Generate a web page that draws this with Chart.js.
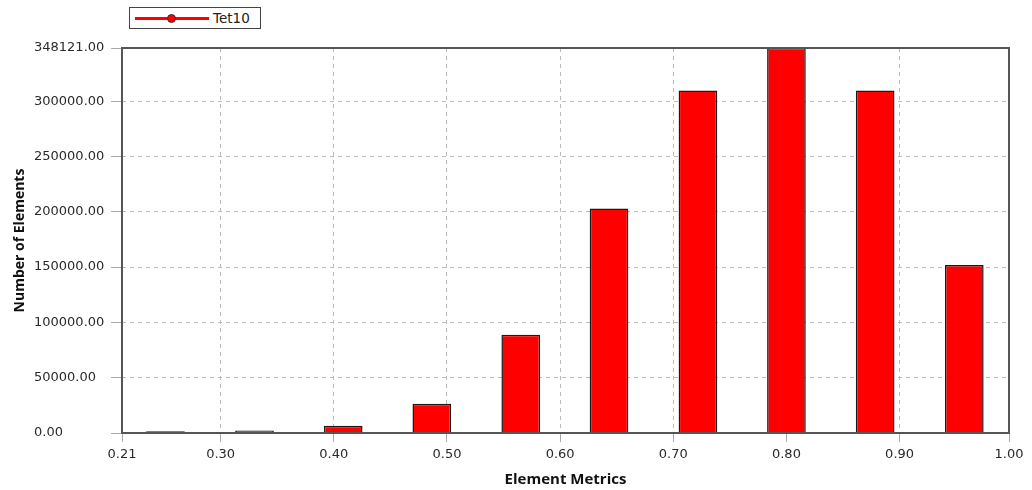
<!DOCTYPE html>
<html>
<head>
<meta charset="utf-8">
<script src="https://cdn.jsdelivr.net/npm/chart.js@4/dist/chart.umd.min.js"></script>
<style>
  body { margin: 0; background: #fff; }
  #wrap { position: relative; width: 1032px; height: 490px; }
  #legend {
    position: absolute; left: 129px; top: 7px; width: 130px; height: 20px;
    border: 1px solid #444; background: #fff;
    font-family: "DejaVu Sans", sans-serif; font-size: 13.5px; color: #222;
  }
  #legend .ln { position: absolute; left: 5px; top: 9px; width: 74px; height: 3px; background: #f00; }
  #legend .dot { position: absolute; left: 37px; top: 6px; width: 7px; height: 7px; border-radius: 50%; background: #f00; border: 1px solid #333; }
  #legend .txt { position: absolute; left: 83px; top: 0px; line-height: 20px; }
</style>
</head>
<body>
<div id="wrap">
  <canvas id="myChart" width="1032" height="490"></canvas>
  <div id="legend"><div class="ln"></div><div class="dot"></div><span class="txt" id="legendText"></span></div>
</div>
<script>
var seriesName = "Tet10";
// bin centres of the element metric histogram (axis runs from min metric 0.2128 to max 0.9967)
var binCenters = [0.2512, 0.3299, 0.4083, 0.4866, 0.5652, 0.6432, 0.7218, 0.8000, 0.8784, 0.9572];
var counts = [1500, 2300, 6600, 26500, 88800, 203000, 309800, 348121, 309800, 152000];
var xTicks = [0.2128, 0.30, 0.40, 0.50, 0.60, 0.70, 0.80, 0.90, 0.9967];
var yTicks = [0, 50000, 100000, 150000, 200000, 250000, 300000, 348121];

document.getElementById("legendText").textContent = seriesName;

var points = [];
for (var i = 0; i < binCenters.length; i++) {
  points.push({ x: binCenters[i], y: counts[i] });
}

// box round the plot area
var framePlugin = {
  id: "frame",
  afterDatasetsDraw: function(chart) {
    var a = chart.chartArea, ctx = chart.ctx;
    ctx.save();
    ctx.strokeStyle = "#555";
    ctx.lineWidth = 2;
    ctx.strokeRect(a.left, a.top, a.right - a.left, a.bottom - a.top);
    ctx.restore();
  }
};

var tickFont = { family: "'DejaVu Sans', sans-serif", size: 13 };

var ctx = document.getElementById("myChart").getContext("2d");
var myChart = new Chart(ctx, {
  type: "bar",
  data: {
    datasets: [{
      label: seriesName,
      data: points,
      backgroundColor: "#ff0000",
      borderColor: "#1a1a1a",
      borderWidth: 1.5,
      categoryPercentage: 1,
      barPercentage: 0.438
    }]
  },
  options: {
    responsive: false,
    animation: false,
    layout: { padding: { top: 48, right: 23, left: 0, bottom: 0 } },
    plugins: { legend: { display: false }, tooltip: { enabled: false } },
    scales: {
      x: {
        type: "linear",
        offset: false,
        min: xTicks[0],
        max: xTicks[xTicks.length - 1],
        afterBuildTicks: function(axis) {
          axis.ticks = xTicks.map(function(v) { return { value: v }; });
        },
        afterFit: function(axis) { axis.height = 57; },
        ticks: {
          autoSkip: false, maxRotation: 0, color: "#2a2a2a", font: tickFont, padding: 5,
          callback: function(v) { return Number(v).toFixed(2); }
        },
        grid: { color: "#bbb", tickColor: "#aaa", tickLength: 9, tickBorderDash: [], offset: false },
        border: { dash: [4, 4], display: false },
        title: { display: true, text: "Element Metrics", color: "#111",
                 font: { family: "'Open Sans', sans-serif", size: 15, weight: "bold" }, padding: { top: 2, bottom: 1 } }
      },
      y: {
        min: 0,
        max: 348121,
        weight: 0,
        afterBuildTicks: function(axis) {
          axis.ticks = yTicks.map(function(v) { return { value: v }; });
        },
        afterFit: function(axis) { axis.width = 88; },
        ticks: {
          color: "#2a2a2a", font: tickFont, crossAlign: "far",
          callback: function(v) { return Number(v).toFixed(2); }
        },
        grid: { color: "#bbb", tickColor: "#aaa", tickLength: 11, tickBorderDash: [] },
        border: { dash: [4, 4], display: false }
      },
      yTitle: {
        type: "linear",
        position: "left",
        weight: 1,
        afterFit: function(axis) { axis.width = 34; },
        ticks: { display: false },
        grid: { display: false },
        border: { display: false },
        title: { display: true, text: "Number of Elements", color: "#111",
                 font: { family: "'Open Sans', sans-serif", size: 14, weight: "bold" }, padding: { top: 12, bottom: 12 } }
      }
    }
  },
  plugins: [framePlugin]
});
</script>
</body>
</html>
